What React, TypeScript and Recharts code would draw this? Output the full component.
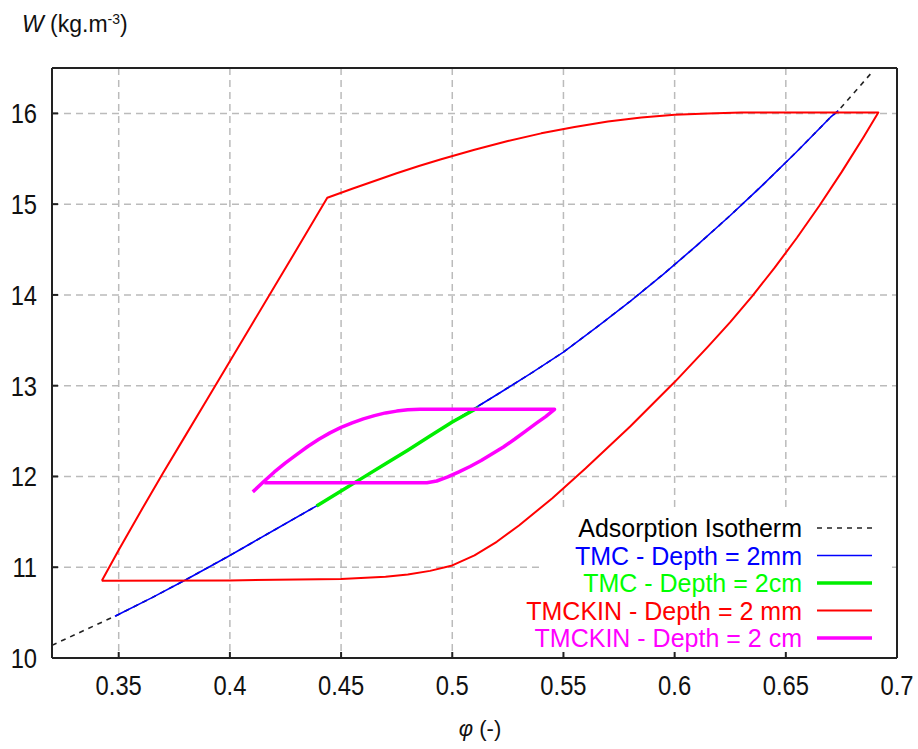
import React from 'react';
import { LineChart, Line, XAxis, YAxis, CartesianGrid, Legend } from 'recharts';

const FONT = '"Liberation Sans", Arial, Helvetica, sans-serif';

// Axis ticks
const xTicks = [0.35, 0.4, 0.45, 0.5, 0.55, 0.6, 0.65, 0.7];
const yTicks = [10, 11, 12, 13, 14, 15, 16];
const xDomain: [number, number] = [0.32, 0.7];
const yDomain: [number, number] = [10, 16.5];

// [phi, W] pairs
const isotherm: [number, number][] = [
  [0.32, 10.14], [0.335, 10.31], [0.35, 10.48], [0.365, 10.665], [0.38, 10.86],
  [0.40, 11.13], [0.42, 11.41], [0.44, 11.69], [0.46, 11.99], [0.48, 12.29],
  [0.50, 12.60], [0.52, 12.90], [0.535, 13.13], [0.55, 13.37], [0.565, 13.645],
  [0.58, 13.93], [0.595, 14.23], [0.61, 14.545], [0.625, 14.875], [0.64, 15.22],
  [0.655, 15.58], [0.67, 15.955], [0.6736, 16.03], [0.689, 16.46],
];

const tmc2mm: [number, number][] = [
  [0.3483, 10.46], [0.365, 10.665], [0.38, 10.86], [0.40, 11.13], [0.42, 11.41],
  [0.44, 11.69], [0.46, 11.99], [0.48, 12.29], [0.50, 12.60], [0.52, 12.90],
  [0.535, 13.13], [0.55, 13.37], [0.565, 13.645], [0.58, 13.93], [0.595, 14.23],
  [0.61, 14.545], [0.625, 14.875], [0.64, 15.22], [0.655, 15.58], [0.67, 15.955],
  [0.6736, 16.03],
];

const tmc2cm: [number, number][] = [
  [0.439, 11.675], [0.45, 11.84], [0.46, 11.99], [0.47, 12.14], [0.48, 12.29],
  [0.49, 12.445], [0.50, 12.60], [0.5117, 12.76],
];

const tmckin2mm: [number, number][] = [
  // rising branch
  [0.3424, 10.85], [0.35, 11.19], [0.36, 11.62], [0.37, 12.04], [0.38, 12.45],
  [0.39, 12.86], [0.40, 13.27], [0.41, 13.68], [0.42, 14.09], [0.43, 14.50],
  [0.4438, 15.07],
  // upper branch
  [0.455, 15.17], [0.465, 15.255], [0.475, 15.34], [0.485, 15.42], [0.495, 15.495],
  [0.51, 15.60], [0.525, 15.695], [0.54, 15.78], [0.555, 15.85], [0.57, 15.91],
  [0.585, 15.955], [0.60, 15.985], [0.615, 16.0], [0.63, 16.01], [0.6916, 16.01],
  // falling branch
  [0.685, 15.74], [0.675, 15.35], [0.665, 14.98], [0.655, 14.63], [0.645, 14.30],
  [0.635, 13.99], [0.625, 13.70], [0.615, 13.43], [0.60, 13.04], [0.58, 12.55],
  [0.56, 12.09], [0.545, 11.76], [0.53, 11.46], [0.52, 11.28], [0.51, 11.13],
  [0.50, 11.02], [0.49, 10.96], [0.48, 10.92], [0.47, 10.895], [0.45, 10.87],
  [0.40, 10.855], [0.3424, 10.85],
];

const tmckin2cm: [number, number][] = [
  [0.4103, 11.83], [0.4155, 11.95], [0.42, 12.05], [0.425, 12.15], [0.43, 12.24],
  [0.435, 12.33], [0.44, 12.41], [0.445, 12.48], [0.45, 12.54], [0.455, 12.59],
  [0.46, 12.635], [0.465, 12.67], [0.47, 12.70], [0.475, 12.72], [0.48, 12.735],
  [0.4855, 12.74], [0.546, 12.74], [0.542, 12.66], [0.538, 12.59], [0.533, 12.50],
  [0.528, 12.41], [0.523, 12.325], [0.518, 12.25], [0.513, 12.175], [0.508, 12.11],
  [0.503, 12.05], [0.498, 11.995], [0.493, 11.95], [0.4886, 11.93], [0.4155, 11.93],
];

const toPoints = (pairs: [number, number][]) => pairs.map(([x, y]) => ({ x, y }));

const series = [
  { name: 'Adsorption Isotherm', data: isotherm, stroke: '#222222', width: 1.6, dash: '5 5', text: '#000000' },
  { name: 'TMC - Depth = 2mm', data: tmc2mm, stroke: '#0000ff', width: 1.6, dash: undefined, text: '#0000ff' },
  { name: 'TMC - Depth = 2cm', data: tmc2cm, stroke: '#00ee00', width: 3.5, dash: undefined, text: '#00ff00' },
  { name: 'TMCKIN - Depth = 2 mm', data: tmckin2mm, stroke: '#ff0000', width: 2, dash: undefined, text: '#ff0000' },
  { name: 'TMCKIN - Depth = 2 cm', data: tmckin2cm, stroke: '#ff00ff', width: 3.5, dash: undefined, text: '#ff00ff' },
];

const XTick = (props: any) => {
  const { x, y, payload } = props;
  return (
    <g transform={`translate(${x},${y})`}>
      <text transform="scale(0.88,1)" x={0} y={37} textAnchor="middle" fontSize={27} fill="#111" fontFamily={FONT}>
        {String(payload.value)}
      </text>
    </g>
  );
};

const YTick = (props: any) => {
  const { x, y, payload } = props;
  return (
    <g transform={`translate(${x},${y})`}>
      <text transform="scale(0.88,1)" x={-17} y={10} textAnchor="end" fontSize={27} fill="#111" fontFamily={FONT}>
        {String(payload.value)}
      </text>
    </g>
  );
};

const LegendBox = () => (
  <svg width={350} height={140} style={{ overflow: 'visible', display: 'block' }}>
    <rect x={0} y={0} width={350} height={140} fill="#ffffff" />
    {series.map((s, i) => {
      const base = 25 + i * 27.5;
      return (
        <g key={s.name}>
          <text x={262} y={base} textAnchor="end" fontSize={25} fill={s.text} fontFamily={FONT}>
            {s.name}
          </text>
          <line x1={277} x2={332} y1={base - 9} y2={base - 9} stroke={s.stroke} strokeWidth={s.width} strokeDasharray={s.dash} />
        </g>
      );
    })}
  </svg>
);

export default function App() {
  const frame = { stroke: '#222', strokeWidth: 2 };
  return (
    <div style={{ position: 'absolute', left: 0, top: 0, width: 918, height: 749, background: '#fff', fontFamily: FONT }}>
      <LineChart width={918} height={749} margin={{ top: 67, right: 20, bottom: 0, left: 0 }}>
        <CartesianGrid stroke="#bbbbbb" strokeWidth={1.5} strokeDasharray="7 5" />
        {series.map((s) => (
          <Line
            key={s.name}
            name={s.name}
            data={toPoints(s.data)}
            dataKey="y"
            type="linear"
            stroke={s.stroke}
            strokeWidth={s.width}
            strokeDasharray={s.dash}
            strokeLinejoin="round"
            dot={false}
            activeDot={false}
            isAnimationActive={false}
          />
        ))}
        <XAxis
          dataKey="x"
          type="number"
          domain={xDomain}
          ticks={xTicks}
          allowDataOverflow
          height={91}
          tickSize={-6}
          tickMargin={6}
          axisLine={frame}
          tickLine={frame}
          tick={<XTick />}
          interval={0}
        />
        <XAxis
          xAxisId="top"
          orientation="top"
          dataKey="x"
          type="number"
          domain={xDomain}
          ticks={xTicks}
          allowDataOverflow
          height={1}
          tickSize={-6}
          axisLine={frame}
          tickLine={frame}
          tick={false}
          interval={0}
        />
        <YAxis
          type="number"
          domain={yDomain}
          ticks={yTicks}
          allowDataOverflow
          width={52}
          tickSize={-6}
          tickMargin={6}
          axisLine={frame}
          tickLine={frame}
          tick={<YTick />}
          interval={0}
        />
        <YAxis
          yAxisId="right"
          orientation="right"
          type="number"
          domain={yDomain}
          ticks={yTicks}
          allowDataOverflow
          width={1}
          tickSize={-6}
          axisLine={frame}
          tickLine={frame}
          tick={false}
          interval={0}
        />
        <Legend
          layout="vertical"
          align="center"
          verticalAlign="middle"
          wrapperStyle={{ left: 540, top: 512, width: 350, height: 140 }}
          content={() => <LegendBox />}
        />
      </LineChart>
      <div style={{ position: 'absolute', left: 22, top: 13, fontSize: 23, lineHeight: '23px', whiteSpace: 'nowrap', color: '#111' }}>
        <i>W</i> (kg.m<span style={{ fontSize: 14, position: 'relative', top: -8 }}>-3</span>)
      </div>
      <div style={{ position: 'absolute', left: 380, width: 200, top: 718, textAlign: 'center', fontSize: 22, lineHeight: '22px', whiteSpace: 'nowrap', color: '#111' }}>
        <i>φ</i> (-)
      </div>
    </div>
  );
}
